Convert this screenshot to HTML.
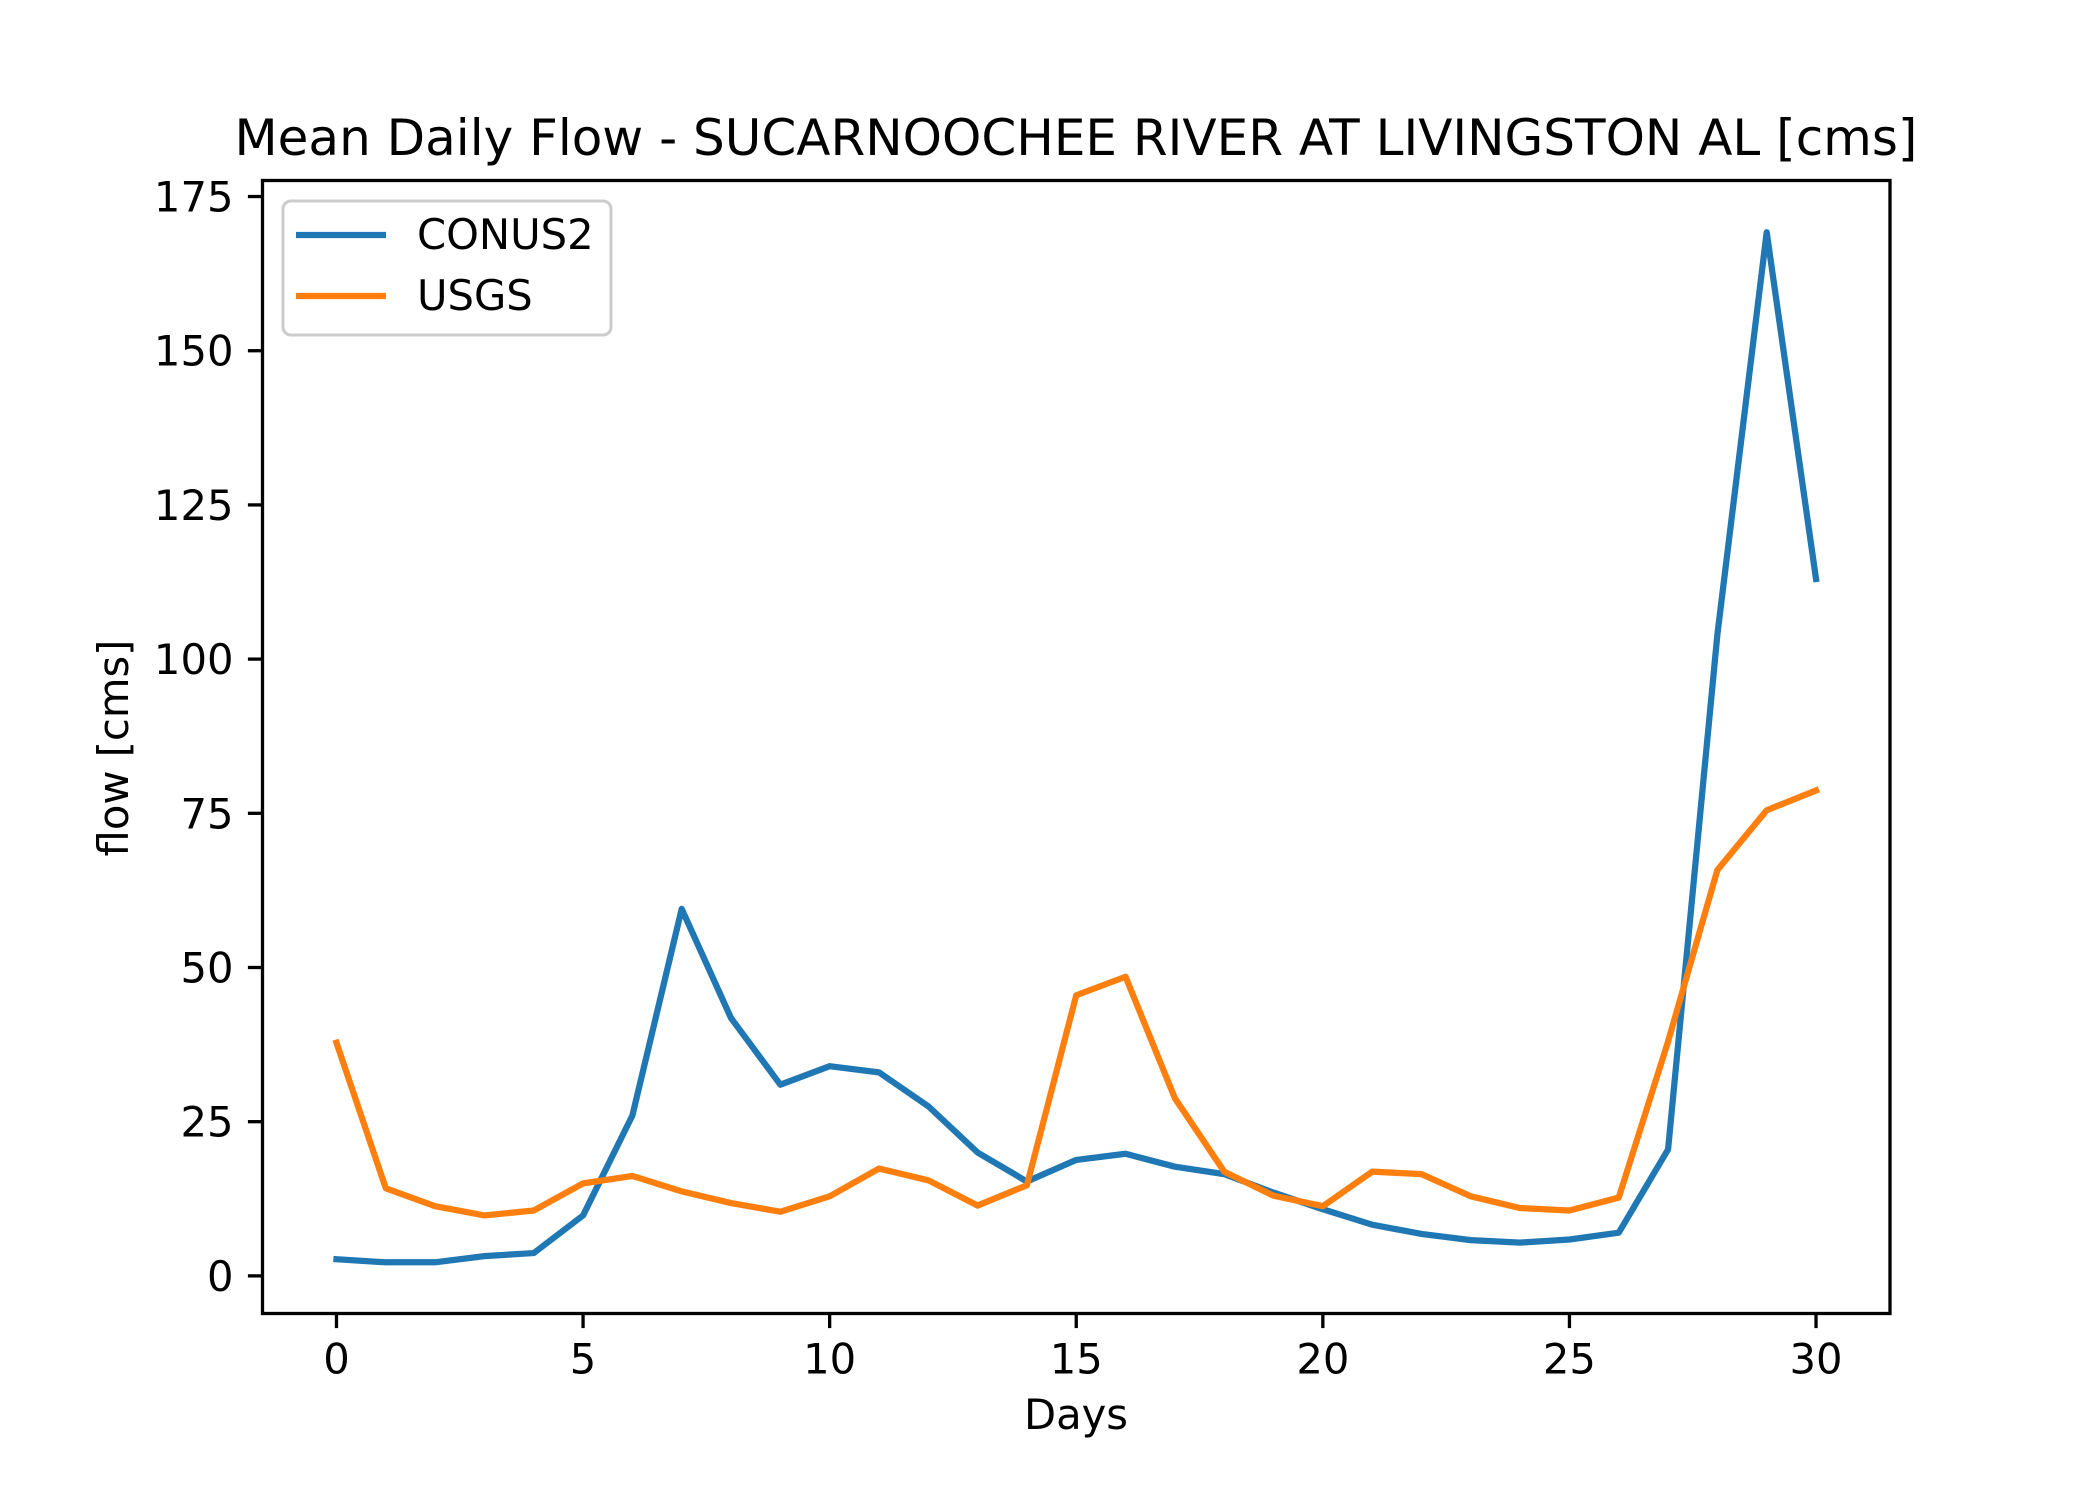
<!DOCTYPE html>
<html><head><meta charset="utf-8">
<style>
html,body{margin:0;padding:0;background:#fff;}
svg{display:block;font-family:"DejaVu Sans","Liberation Sans",sans-serif;}
</style></head>
<body>
<svg id="chart" width="2100" height="1500" viewBox="0 0 2100 1500">
<rect width="2100" height="1500" fill="#fff"/>
<text x="1076" y="155" font-size="50" text-anchor="middle">Mean Daily Flow - SUCARNOOCHEE RIVER AT LIVINGSTON AL [cms]</text>
<g id="plot"></g>
<rect x="262.5" y="180.5" width="1627.5" height="1133" fill="none" stroke="#000" stroke-width="3.3"/>
<text x="1076" y="1429" font-size="41.7" text-anchor="middle">Days</text>
<text transform="translate(128,748) rotate(-90)" font-size="41.7" text-anchor="middle">flow [cms]</text>
<g>
<rect x="283" y="201" width="328" height="134" rx="8" fill="#fff" fill-opacity="0.8" stroke="#ccc" stroke-width="3"/>
<line x1="296" y1="235" x2="386" y2="235" stroke="#1f77b4" stroke-width="6.25"/>
<text x="417" y="249" font-size="41.7">CONUS2</text>
<line x1="296" y1="296" x2="386" y2="296" stroke="#ff7f0e" stroke-width="6.25"/>
<text x="417" y="310" font-size="41.7">USGS</text>
</g>
</svg>
<script>
const days = [0,1,2,3,4,5,6,7,8,9,10,11,12,13,14,15,16,17,18,19,20,21,22,23,24,25,26,27,28,29,30];
const conus2 = [2.7,2.2,2.2,3.2,3.7,9.8,26,59.5,41.8,31,34,33,27.5,20,15.3,18.8,19.8,17.7,16.5,13.5,10.8,8.3,6.8,5.8,5.4,5.9,7,20.5,104,169.2,113];
const usgs = [37.8,14.2,11.3,9.8,10.6,15,16.2,13.7,11.8,10.4,12.9,17.4,15.5,11.4,14.7,45.5,48.5,28.8,16.9,13,11.3,16.9,16.5,12.9,11,10.6,12.7,38,65.8,75.5,78.7];
const xTicks = [0,5,10,15,20,25,30];
const yTicks = [0,25,50,75,100,125,150,175];

const L=262.5,R=1890,T=180.5,B=1313.5;
const xMin=-1.5,xMax=31.5,yMin=-6.1,yMax=177.6;
const xs=v=>L+(v-xMin)/(xMax-xMin)*(R-L);
const ys=v=>B-(v-yMin)/(yMax-yMin)*(B-T);
const NS="http://www.w3.org/2000/svg";
const g=document.getElementById('plot');
function mk(tag,attrs){const e=document.createElementNS(NS,tag);for(const k in attrs)e.setAttribute(k,attrs[k]);g.appendChild(e);return e;}
xTicks.forEach(t=>{
  const l=mk('line',{x1:xs(t),x2:xs(t),y1:B,y2:B+14.6,stroke:'#000','stroke-width':3.3});
  
  
  const tx=mk('text',{x:xs(t),y:B+60,'font-size':41.7,'text-anchor':'middle'});
  tx.textContent=t;
  
  
});
yTicks.forEach(t=>{
  const l=mk('line',{x1:L-14.6,x2:L,y1:ys(t),y2:ys(t),stroke:'#000','stroke-width':3.3});
  
  
  const tx=mk('text',{x:L-29,y:ys(t)+15,'font-size':41.7,'text-anchor':'end'});
  tx.textContent=t;
  
  
});
function series(vals,color,name){
  const p=mk('polyline',{points:vals.map((v,i)=>xs(days[i])+','+ys(v)).join(' '),fill:'none',stroke:color,'stroke-width':6.25,'stroke-linejoin':'round','stroke-linecap':'square'});
  
  
}
series(conus2,'#1f77b4','conus2-line');
series(usgs,'#ff7f0e','usgs-line');
</script>
</body></html>
